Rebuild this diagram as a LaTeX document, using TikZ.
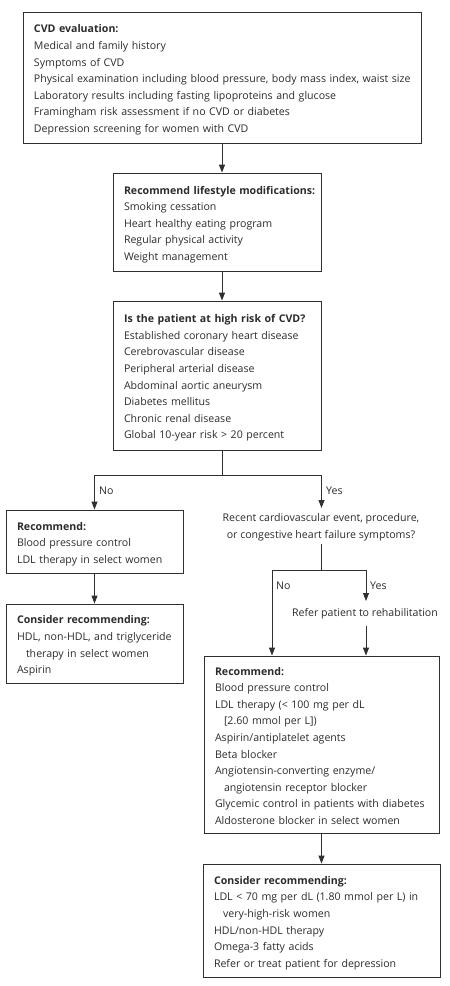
\documentclass[tikz,border=0pt]{standalone}
\usepackage{fontspec}
\setmainfont{Open Sans}
\usetikzlibrary{arrows.meta}
\definecolor{ink}{HTML}{2B2B2B}
\definecolor{linec}{HTML}{303030}
\newcommand{\fs}{\fontsize{10.6pt}{16.6pt}\selectfont}
\newcommand{\myind}{\hspace*{9pt}}
\newcommand{\hdr}[1]{\rule{0pt}{14pt}\textbf{#1}}
\newcommand{\botst}{\rule[-3.5pt]{0pt}{3.5pt}}
\newcommand{\nb}[1]{\mbox{#1}}
\begin{document}
\begin{tikzpicture}[x=1pt,y=-1pt,
  box/.style={draw=linec, line width=0.9pt, align=left, inner xsep=11pt, inner ysep=0pt, font=\fs, text=ink},
  lbl/.style={font=\fs, text=ink, inner sep=0pt},
  conn/.style={draw=linec, line width=0.9pt},
  arr/.style={conn, -{Triangle[length=8pt,width=6pt]}}]
\useasboundingbox (0,0) rectangle (450,986);

\node[box, text width=376pt, minimum height=131pt] (b1) at (222,77.5) {\hdr{CVD evaluation:}\\
Medical and family history\\
Symptoms of CVD\\
\nb{Physical examination including blood pressure, body mass index, waist size}\\
Laboratory results including fasting lipoproteins and glucose\\
Framingham risk assessment if no CVD or diabetes\\
Depression screening for women with CVD\botst};

\node[box, text width=186pt, minimum height=98pt] (b2) at (217,222) {\hdr{\nb{Recommend lifestyle modifications:}}\\
Smoking cessation\\
Heart healthy eating program\\
Regular physical activity\\
Weight management\botst};

\node[box, text width=186pt, minimum height=149pt] (b3) at (217,375.5) {\hdr{\nb{Is the patient at high risk of CVD?}}\\
Established coronary heart disease\\
Cerebrovascular disease\\
Peripheral arterial disease\\
Abdominal aortic aneurysm\\
Diabetes mellitus\\
Chronic renal disease\\
Global 10-year risk > 20 percent\botst};

\node[box, text width=155pt, minimum height=63pt] (b4) at (94.5,541.5) {\hdr{Recommend:}\\
Blood pressure control\\
\nb{LDL therapy in select women}\botst};

\node[box, text width=155pt, minimum height=79pt] (b5) at (94.5,643.5) {\hdr{\nb{Consider recommending:}}\\
\nb{HDL, non-HDL, and triglyceride}\\
\myind therapy in select women\\
Aspirin\botst};

\node[lbl, align=center] (q) at (321,527) {Recent cardiovascular event, procedure,\\or congestive heart failure symptoms?};

\node[lbl] (r) at (365,614) {Refer patient to rehabilitation};

\node[box, text width=213pt, minimum height=177pt] (b6) at (321.5,744.5) {\hdr{Recommend:}\\
Blood pressure control\\
LDL therapy (< 100 mg per dL\\
\myind [2.60 mmol per L])\\
Aspirin/antiplatelet agents\\
Beta blocker\\
Angiotensin-converting enzyme/\\
\myind angiotensin receptor blocker\\
\nb{Glycemic control in patients with diabetes}\\
Aldosterone blocker in select women\botst};

\node[box, text width=215pt, minimum height=113pt] (b7) at (321.5,920.5) {\hdr{Consider recommending:}\\
\nb{LDL < 70 mg per dL (1.80 mmol per L) in}\\
\myind very-high-risk women\\
HDL/non-HDL therapy\\
Omega-3 fatty acids\\
Refer or treat patient for depression\botst};

\node[lbl, anchor=west] (no1) at (99,491) {No};
\node[lbl, anchor=west] (yes1) at (326,491) {Yes};
\node[lbl, anchor=west] (no2) at (276,586) {No};
\node[lbl, anchor=west] (yes2) at (370,586) {Yes};

\coordinate (sp) at (222,475);
\coordinate (qin) at (321.5,508);
\coordinate (qout) at (321.5,544);
\coordinate (sp2) at (321.5,570);
\coordinate (nox) at (272,570);
\coordinate (yesx) at (366,570);
\coordinate (rin) at (366,601);
\coordinate (rout) at (366,626);

\draw[arr] (b1.south) -- (b1.south |- b2.north);
\draw[arr] (b2.south -| b1.south) -- (b1.south |- b3.north);
\draw[conn] (b3.south -| sp) -- (sp);
\draw[arr] (sp) -| (b4.north);
\draw[arr] (sp) -| (qin);
\draw[arr] (b4.south) -- (b5.north);
\draw[conn] (qout) -- (sp2);
\draw[conn] (nox) -- (yesx);
\draw[arr] (nox) -- (nox |- b6.north);
\draw[arr] (yesx) -- (rin);
\draw[arr] (rout) -- (rout |- b6.north);
\draw[arr] (b6.south) -- (b6.south |- b7.north);
\end{tikzpicture}
\end{document}
